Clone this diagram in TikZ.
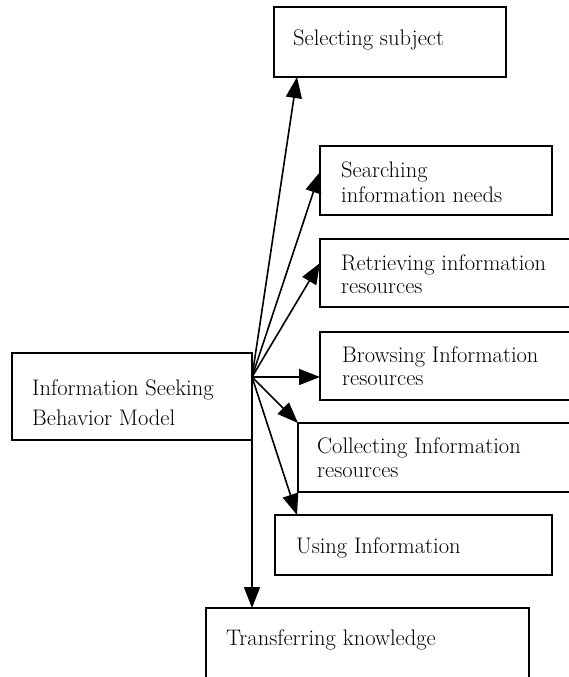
\documentclass[tikz,border=0pt]{standalone}
\usetikzlibrary{arrows.meta,calc}
\begin{document}
\begin{tikzpicture}[x=1pt,y=-1pt,
  box/.style={draw,line width=1.6pt,inner sep=0pt,outer sep=0pt,anchor=north west},
  txt/.style={anchor=base west,inner sep=0pt,font=\fontsize{22.5}{26}\selectfont},
  arr/.style={line width=1.6pt,-{Triangle[length=21pt,width=16pt]}}]
\useasboundingbox (0,0) rectangle (569,677);
\clip (0,0) rectangle (569,677);
% boxes
\node[box,minimum width=232pt,minimum height=70pt] (sel) at (274,7) {};
\node[box,minimum width=232pt,minimum height=69pt] (sea) at (320,146) {};
\node[box,minimum width=270pt,minimum height=68pt] (ret) at (320,239) {};
\node[box,minimum width=270pt,minimum height=68pt] (bro) at (320,332) {};
\node[box,minimum width=290pt,minimum height=69pt] (col) at (298,423) {};
\node[box,minimum width=277pt,minimum height=60pt] (use) at (275,515) {};
\node[box,minimum width=323pt,minimum height=90pt] (tra) at (206,608) {};
\node[box,minimum width=240pt,minimum height=87pt] (isb) at (12,353) {};
% texts
\node[txt] (selt) at (293,46) {Selecting subject};
\node[txt] (seat1) at (341,177) {Searching};
\node[txt] (seat2) at (341,202) {information needs};
\node[txt] (rett1) at (341,270) {Retrieving information};
\node[txt] (rett2) at (341,293) {resources};
\node[txt] (brot1) at (342,362) {Browsing Information};
\node[txt] (brot2) at (342,385) {resources};
\node[txt] (colt1) at (317,453) {Collecting Information};
\node[txt] (colt2) at (317,477) {resources};
\node[txt] (uset) at (296,553) {Using Information};
\node[txt] (trat) at (226,645) {Transferring knowledge};
\node[txt] (isbt1) at (32,395) {Information Seeking};
\node[txt] (isbt2) at (32,425) {Behavior Model};
% hub
\coordinate (hub) at ($(isb.north east)+(0,24)$);
% arrows
\draw[arr] (hub) -- ($(sel.south west)+(23,0)$);
\draw[arr] (hub) -- ($(sea.north west)+(0,26)$);
\draw[arr] (hub) -- ($(ret.north west)+(0,24)$);
\draw[arr] (hub) -- ($(bro.north west)+(0,45)$);
\draw[arr] (hub) -- (col.north west);
\draw[arr] (hub) -- ($(use.north west)+(22,0)$);
\draw[arr] (hub) -- (hub |- tra.north);
\end{tikzpicture}
\end{document}
